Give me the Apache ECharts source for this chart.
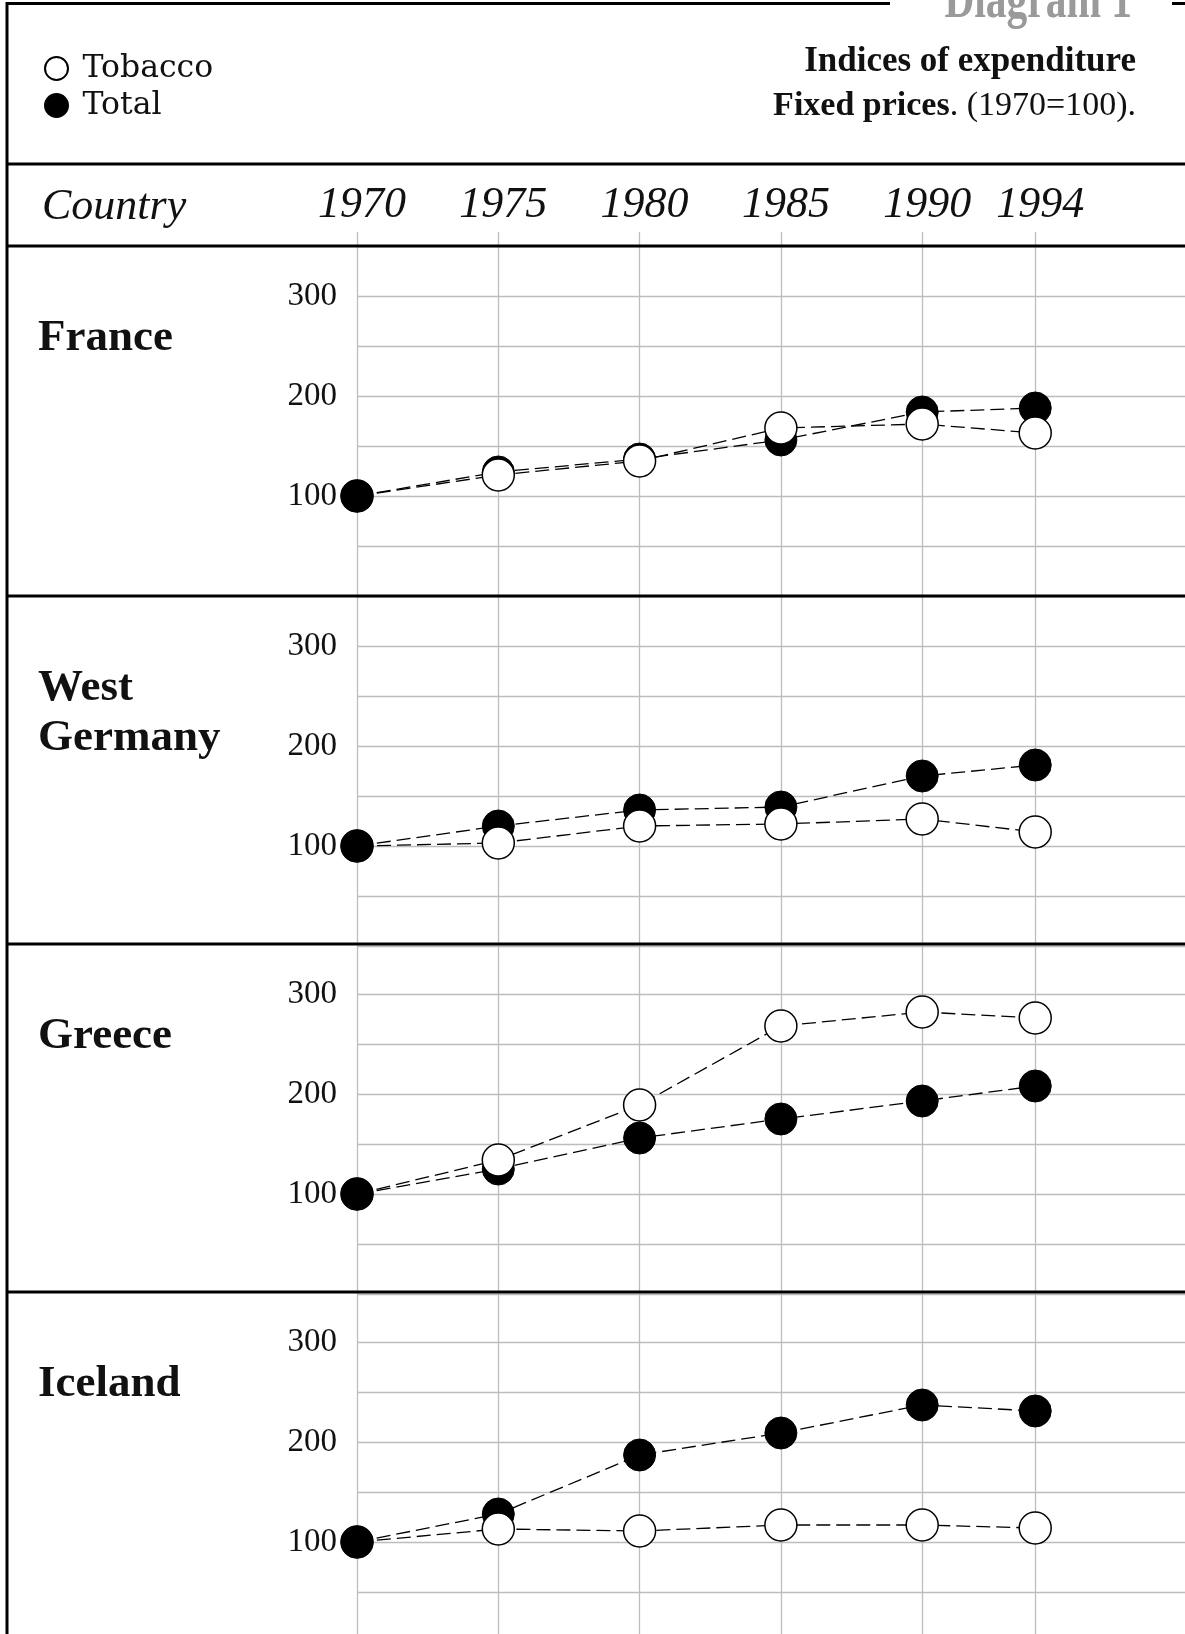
<!DOCTYPE html>
<html><head><meta charset="utf-8">
<script src="https://cdn.jsdelivr.net/npm/echarts@6/dist/echarts.min.js"></script>
<style>html,body{margin:0;padding:0;background:#fff}#c{width:1185px;height:1634px}</style>
</head><body><div id="c"></div>
<script>
// ---- data ----
const years = [1970, 1975, 1980, 1985, 1990, 1994];
const countries = ['France', 'West\nGermany', 'Greece', 'Iceland'];
const franceTotal    = [100, 124, 137, 156, 184, 188];
const franceTobacco  = [100, 121, 135, 168, 172, 163];
const wgTotal        = [100, 120, 136, 139, 170, 181];
const wgTobacco      = [100, 103, 120, 122, 127, 114];
const greeceTotal    = [100, 125, 156, 175, 193, 208];
const greeceTobacco  = [100, 134, 189, 268, 282, 276];
const icelandTotal   = [100, 128, 187, 209, 237, 231];
const icelandTobacco = [100, 113, 111, 117, 117, 114];
const yTickLabels = [100, 200, 300];
const seriesNames = ['Tobacco', 'Total'];

const totals = [franceTotal, wgTotal, greeceTotal, icelandTotal];
const tobaccos = [franceTobacco, wgTobacco, greeceTobacco, icelandTobacco];

// ---- layout ----
const FONT = '"Liberation Serif", "Times New Roman", serif';
const FONT2 = '"DejaVu Serif", serif';
const panelTops = [246, 596, 944, 1292];
const PANEL_H = 350;
const GRID_LEFT = 357;
const X_MIN = 1970, X_MAX = 1999.3;
const GRID_COLOR = '#bdbdbd';

const grids = [], xAxes = [], yAxes = [], series = [];
panelTops.forEach((top, p) => {
  grids.push({left: GRID_LEFT, right: 0, top: top, height: PANEL_H, containLabel: false, outerBoundsMode: 'none'});
  xAxes.push({type: 'value', gridIndex: p, min: X_MIN, max: X_MAX, show: false});
  yAxes.push({
    type: 'value', gridIndex: p, min: 0, max: 350, interval: 50,
    axisLine: {show: false}, axisTick: {show: false},
    splitLine: {show: true, lineStyle: {color: GRID_COLOR, width: 1.3}},
    axisLabel: {
      formatter: v => yTickLabels.includes(v) ? String(v) : '',
      fontSize: 33, fontFamily: FONT, color: '#111', margin: 20
    }
  });
  series.push({
    type: 'line', name: 'Total', xAxisIndex: p, yAxisIndex: p, z: 3,
    data: years.map((y, i) => [y, totals[p][i]]),
    symbol: 'circle', symbolSize: 32, showSymbol: true,
    itemStyle: {color: '#000', borderColor: '#000', borderWidth: 1},
    lineStyle: {color: '#000', width: 1.3, type: [14, 6]},
    silent: true
  });
  series.push({
    type: 'line', name: 'Tobacco', xAxisIndex: p, yAxisIndex: p, z: 4,
    data: years.map((y, i) => i === 0
      ? {value: [y, tobaccos[p][i]], itemStyle: {color: '#000'}}
      : [y, tobaccos[p][i]]),
    symbol: 'circle', symbolSize: 32, showSymbol: true,
    itemStyle: {color: '#fff', borderColor: '#000', borderWidth: 1.5},
    lineStyle: {color: '#000', width: 1.3, type: [14, 6]},
    silent: true
  });
});

// overlay grid for year labels and vertical year lines
grids.push({left: GRID_LEFT, right: 0, top: 232, bottom: 0, containLabel: false, outerBoundsMode: 'none'});
xAxes.push({
  type: 'value', gridIndex: 4, min: X_MIN, max: X_MAX, position: 'top',
  axisLine: {show: false}, axisTick: {show: false}, splitLine: {show: false},
  axisLabel: {
    customValues: years, formatter: v => String(v),
    fontSize: 44, fontStyle: 'italic', fontFamily: FONT,
    color: '#111', margin: 27, verticalAlign: 'middle', padding: [0, 0, 0, 10]
  }
});
yAxes.push({type: 'value', gridIndex: 4, min: 0, max: 1, show: false});
series.push({
  type: 'line', xAxisIndex: 4, yAxisIndex: 4, z: 1,
  data: [[1970, -5]], symbol: 'none', lineStyle: {opacity: 0}, silent: true,
  markLine: {
    silent: true, symbol: 'none', z: 1, label: {show: false},
    lineStyle: {color: GRID_COLOR, width: 1.3, type: 'solid'},
    data: years.map(y => ({xAxis: y}))
  }
});

// ---- frame lines & texts ----
const hline = (x1, x2, y, w) => ({type: 'line', z: 100, silent: true,
  shape: {x1: x1, y1: y, x2: x2, y2: y}, style: {stroke: '#000', lineWidth: w}});
const graphics = [
  hline(6, 890, 3.5, 3),
  hline(1172, 1185, 3.5, 3),
  {type: 'line', z: 100, silent: true, shape: {x1: 7, y1: 2, x2: 7, y2: 1634}, style: {stroke: '#000', lineWidth: 3}},
  hline(6, 1185, 164, 3),
  ...panelTops.map(t => hline(6, 1185, t, 3)),
  {type: 'text', z: 100, x: 1132, y: 3, scaleX: 0.74, silent: true,
    style: {text: 'Diagram 1', font: 'bold 56px ' + FONT, fill: '#9a9a9a',
      align: 'right', verticalAlign: 'middle', textAlign: 'right', textVerticalAlign: 'middle'}},
  {type: 'text', z: 100, x: 1136, y: 62, silent: true,
    style: {text: 'Indices of expenditure', font: 'bold 35px ' + FONT, fill: '#111',
      align: 'right', verticalAlign: 'middle', textAlign: 'right', textVerticalAlign: 'middle'}},
  {type: 'text', z: 100, x: 1136, y: 106, silent: true,
    style: {text: '{b|Fixed prices}{n|. (1970=100).}', fill: '#111',
      align: 'right', verticalAlign: 'middle', textAlign: 'right', textVerticalAlign: 'middle',
      rich: {
        b: {fontWeight: 'bold', fontSize: 34, fontFamily: FONT, fill: '#111', color: '#111'},
        n: {fontWeight: 'normal', fontSize: 34, fontFamily: FONT, fill: '#111', color: '#111'}
      }}},
  {type: 'text', z: 100, x: 42, y: 207, silent: true,
    style: {text: 'Country', font: 'italic 44px ' + FONT, fill: '#111',
      align: 'left', verticalAlign: 'middle', textAlign: 'left', textVerticalAlign: 'middle'}},
  ...countries.map((c, p) => ({
    type: 'text', z: 100, x: 38, silent: true,
    y: panelTops[p] + 92 + (c.includes('\n') ? 25 : 0),
    style: {text: c, font: 'bold 45px ' + FONT, fill: '#111', lineHeight: 50,
      align: 'left', verticalAlign: 'middle', textAlign: 'left', textVerticalAlign: 'middle'}
  }))
];

const chart = echarts.init(document.getElementById('c'), null, {renderer: 'canvas'});
chart.setOption({
  animation: false,
  backgroundColor: '#fff',
  legend: {
    data: seriesNames, orient: 'vertical', left: 39, top: 45,
    icon: 'circle', itemWidth: 42, itemHeight: 23, itemGap: 0, selectedMode: false,
    textStyle: {fontSize: 31.5, fontFamily: FONT2, color: '#111', lineHeight: 37}
  },
  grid: grids, xAxis: xAxes, yAxis: yAxes, series: series,
  graphic: graphics
});
</script>
</body></html>
